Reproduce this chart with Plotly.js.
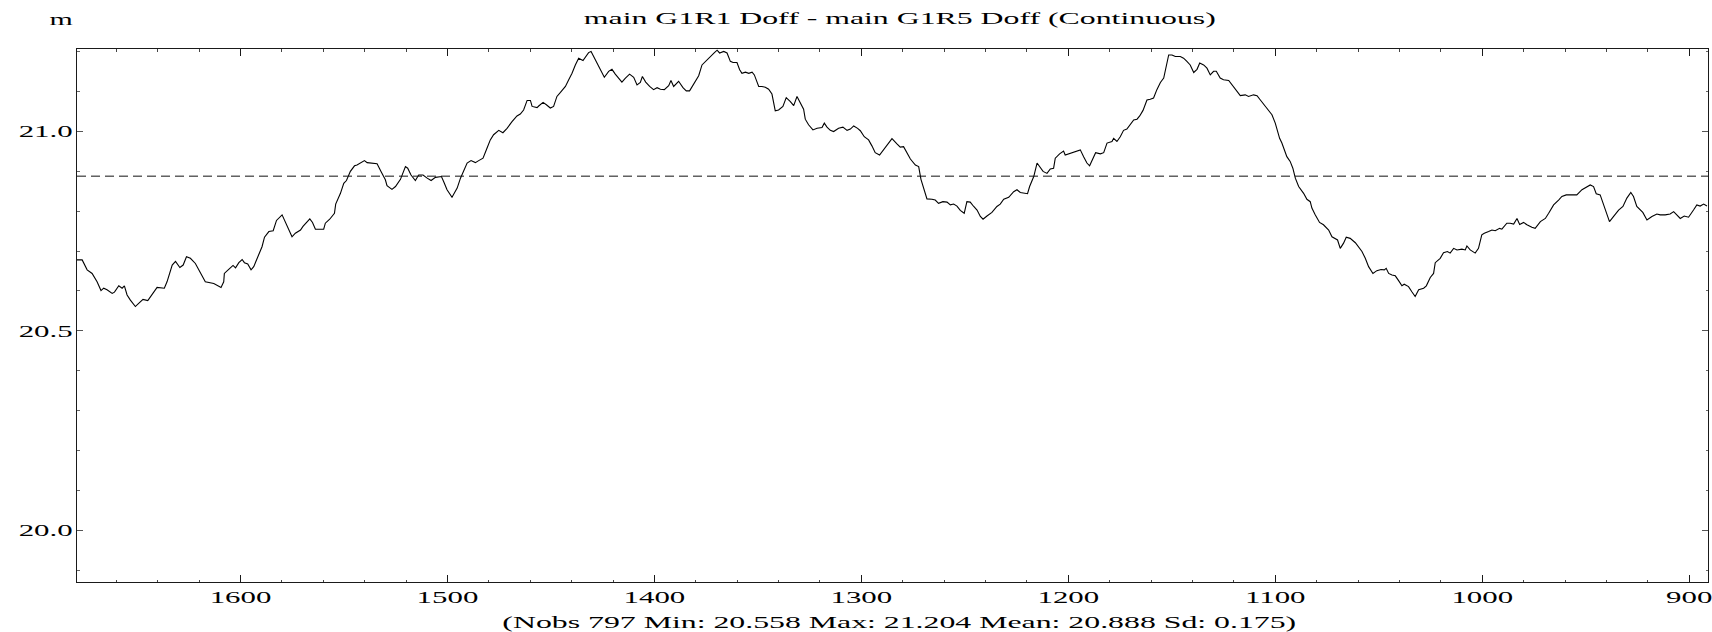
<!DOCTYPE html>
<html>
<head>
<meta charset="utf-8">
<script src="https://cdn.plot.ly/plotly-3.0.1.min.js"></script>
<style>
  html, body { margin: 0; padding: 0; background: #fff; }
  #chart { width: 1712px; height: 632px; }
</style>
</head>
<body>
<div id="chart"></div>
<script>
// ---- texts ----
const chartTitle = "main G1R1 Doff - main G1R5 Doff (Continuous)";
const unitLabel = "m";
const statsLine = "(Nobs 797 Min: 20.558 Max: 21.204 Mean: 20.888 Sd: 0.175)";
const meanValue = 20.888;

// ---- tick labels ----
const xTickVals = [1600, 1500, 1400, 1300, 1200, 1100, 1000, 900];
const xTickText = ["1600", "1500", "1400", "1300", "1200", "1100", "1000", "900"];
const yTickVals = [20.0, 20.5, 21.0];
const yTickText = ["20.0", "20.5", "21.0"];

// ---- series ----
const xVals = [
1679.0,1676.5,1674.1,1671.7,1669.3,1667.4,1666.1,1664.5,1662.0,1660.9,1658.8,1657.2,1656.1,1654.8,1653.2,1650.8,1649.2,1647.1,1644.8,1642.7,
1640.3,1636.8,1635.5,1633.0,1631.4,1629.3,1627.7,1626.1,1624.2,1621.8,1619.4,1617.0,1612.9,1611.3,1609.4,1608.1,1607.8,1605.7,1603.6,1602.4,
1600.8,1599.2,1598.1,1596.5,1594.9,1593.6,1591.7,1589.6,1588.4,1586.3,1584.2,1582.6,1579.9,1577.8,1575.1,1573.5,1571.0,1569.8,1567.8,1566.5,
1565.2,1563.8,1559.8,1559.0,1556.9,1554.6,1554.0,1551.7,1550.1,1548.8,1546.9,1544.9,1543.7,1542.0,1540.1,1538.8,1536.4,1534.0,1532.1,1530.0,
1529.2,1526.8,1525.1,1522.7,1520.3,1519.2,1517.6,1515.5,1513.9,1511.8,1509.8,1507.9,1505.8,1502.9,1501.8,1500.2,1497.8,1495.3,1493.7,1492.1,
1490.5,1488.6,1486.5,1484.9,
1482.8,1480.9,1479.3,1477.7,1475.2,1473.2,1471.2,1468.8,1466.4,1464.8,1463.2,1461.5,1459.9,1459.1,1456.7,1455.9,1453.8,1452.2,1450.3,1448.7,
1447.1,1445.4,1443.0,1441.4,1439.8,1438.2,1436.6,1434.5,1433.4,1431.8,1430.6,1429.3,1427.7,1426.1,1424.2,1422.1,1420.5,1418.9,1417.7,1415.7,
1414.0,1412.0,1410.0,1408.4,1406.8,1405.8,1404.2,1402.3,1400.4,1398.7,1397.1,1395.2,1393.1,1392.0,1390.7,1388.3,1386.2,1384.6,1383.0,1381.0,
1378.6,1377.0,1374.6,1373.3,1371.0,1369.7,1368.5,1366.5,1364.9,1363.3,1362.0,1360.1,1358.8,1357.7,1356.0,1354.4,1352.8,1351.7,1350.4,1349.6,
1348.0,1346.4,1344.8,1343.2,1341.6,1340.0,1337.9,1336.3,1334.3,1332.7,1331.1,1329.2,1327.9,1327.1,1325.5,1323.4,1321.4,1319.0,1317.9,1316.6,
1315.0,1313.4,1311.0,1308.9,1306.9,1305.3,1303.7,1301.8,1300.5,1298.6,1296.5,1294.9,1293.3,1291.2,
1289.2,1286.8,1285.2,1282.8,1281.2,1279.6,1278.0,1276.3,1273.9,1272.3,1271.2,1269.6,1268.3,1265.9,1264.3,1262.7,1260.6,1258.6,1257.0,1255.4,
1253.8,1252.2,1250.3,1249.0,1247.4,1245.7,1244.1,1242.5,1241.2,1239.3,1236.9,1234.5,1232.9,1231.2,1228.8,1226.4,1224.8,1223.2,1220.8,1219.7,
1218.7,1216.7,1215.1,1213.5,1212.2,1210.3,1208.7,1207.1,1206.3,1204.2,1202.3,1201.5,1199.0,1196.6,1194.2,1192.6,1191.0,1189.7,1188.1,1186.8,
1184.5,1182.9,1181.3,1178.9,1178.1,1176.5,1174.9,1173.3,1171.7,1170.0,1168.4,1166.8,1165.5,1163.9,1162.0,1160.4,1158.8,1157.2,1155.5,1153.9,
1152.7,1151.5,1149.9,1148.3,1145.9,1144.3,1142.7,1141.1,1139.4,1137.8,1136.5,1134.6,1133.0,1131.4,1129.8,1128.5,1126.6,1125.0,1122.5,1120.9,
1118.8,1116.9,1114.5,1112.9,1110.5,1108.8,1107.2,1104.8,1103.2,1101.6,1100.0,1097.9,
1096.8,1095.2,1094.4,1092.8,1091.5,1090.3,1088.7,1086.3,1084.7,1083.1,1082.3,1080.7,1078.6,1076.7,1074.2,1072.6,1071.0,1069.9,1068.6,1067.0,
1065.7,1063.8,1061.3,1059.7,1058.1,1056.5,1054.9,1052.8,1050.9,1048.9,1047.3,1046.4,1045.2,1043.6,1042.0,1040.4,1038.8,1037.7,1035.6,1034.0,
1032.4,1030.7,1028.3,1027.0,1025.1,1023.5,1022.7,1020.3,1018.7,1016.8,1015.5,1013.8,1012.2,1009.8,1008.2,1007.4,1005.8,1003.4,1001.8,1000.2,
999.0,996.9,995.3,993.7,991.6,990.5,988.1,986.5,984.8,983.2,981.9,980.0,978.4,976.0,974.4,971.9,969.5,967.9,965.5,963.1,
961.5,959.4,956.7,954.3,951.8,949.4,947.8,946.2,944.9,943.0,940.6,938.5,936.5,934.1,932.0,930.1,928.2,926.9,925.3,924.5,
922.4,920.4,918.0,915.6,914.0,911.6,909.2,907.5,905.9,904.3,902.4,900.3,897.9,896.3,894.7,893.0,891.4
];
const yVals = [
20.678,20.678,20.653,20.644,20.623,20.601,20.607,20.603,20.594,20.597,20.613,20.607,20.613,20.590,20.577,20.561,20.569,20.579,20.576,20.590,
20.609,20.607,20.623,20.665,20.674,20.659,20.665,20.686,20.682,20.669,20.644,20.623,20.619,20.615,20.609,20.623,20.644,20.654,20.664,20.658,
20.671,20.679,20.671,20.668,20.653,20.661,20.686,20.711,20.735,20.749,20.751,20.777,20.791,20.766,20.736,20.745,20.753,20.762,20.772,20.781,
20.772,20.755,20.755,20.770,20.780,20.795,20.818,20.845,20.870,20.877,20.900,20.914,20.916,20.921,20.927,20.922,20.921,20.919,20.900,20.879,
20.864,20.855,20.862,20.880,20.912,20.908,20.891,20.877,20.891,20.891,20.883,20.877,20.885,20.887,20.874,20.854,20.835,20.858,20.883,20.900,
20.921,20.927,20.922,20.927,
20.933,20.958,20.979,20.992,21.003,20.997,21.008,21.025,21.039,21.044,21.054,21.078,21.078,21.063,21.060,21.064,21.073,21.067,21.059,21.063,
21.088,21.098,21.113,21.130,21.146,21.167,21.184,21.178,21.187,21.198,21.201,21.188,21.172,21.153,21.136,21.151,21.156,21.144,21.136,21.124,
21.134,21.144,21.136,21.117,21.123,21.138,21.124,21.113,21.105,21.110,21.106,21.105,21.115,21.128,21.113,21.126,21.110,21.102,21.102,21.121,
21.140,21.167,21.180,21.188,21.198,21.204,21.197,21.201,21.197,21.176,21.173,21.173,21.155,21.146,21.149,21.146,21.149,21.142,21.123,21.113,
21.113,21.111,21.106,21.094,21.052,21.054,21.063,21.085,21.075,21.065,21.088,21.071,21.056,21.031,21.017,21.004,21.008,21.010,21.021,21.011,
21.003,21.000,21.008,21.011,21.003,21.006,21.014,21.008,21.002,20.987,20.979,20.964,20.947,20.941,
20.954,20.969,20.982,20.969,20.961,20.962,20.947,20.931,20.916,20.912,20.880,20.849,20.831,20.830,20.828,20.820,20.824,20.823,20.816,20.818,
20.813,20.802,20.795,20.824,20.823,20.812,20.803,20.787,20.780,20.788,20.797,20.812,20.818,20.830,20.835,20.849,20.854,20.847,20.844,20.844,
20.862,20.887,20.921,20.908,20.900,20.895,20.906,20.908,20.933,20.944,20.951,20.941,20.946,20.950,20.954,20.937,20.921,20.914,20.933,20.947,
20.944,20.947,20.971,20.975,20.983,20.975,20.987,21.003,21.006,21.017,21.029,21.031,21.039,21.053,21.079,21.081,21.084,21.105,21.123,21.134,
21.163,21.192,21.192,21.188,21.188,21.184,21.176,21.167,21.148,21.156,21.172,21.167,21.159,21.142,21.151,21.151,21.134,21.130,21.128,21.117,
21.103,21.090,21.092,21.088,21.092,21.090,21.079,21.063,21.054,21.042,21.021,20.983,
20.971,20.950,20.937,20.925,20.908,20.883,20.862,20.845,20.830,20.824,20.808,20.791,20.772,20.766,20.753,20.736,20.730,20.728,20.707,20.720,
20.735,20.732,20.721,20.711,20.699,20.682,20.661,20.644,20.651,20.654,20.653,20.657,20.644,20.640,20.638,20.626,20.613,20.617,20.611,20.598,
20.586,20.603,20.607,20.613,20.634,20.644,20.671,20.682,20.696,20.699,20.695,20.707,20.703,20.705,20.703,20.713,20.703,20.695,20.707,20.741,
20.745,20.749,20.753,20.751,20.757,20.755,20.770,20.770,20.768,20.782,20.767,20.772,20.766,20.760,20.757,20.774,20.782,20.795,20.816,20.828,
20.837,20.841,20.841,20.841,20.854,20.862,20.866,20.862,20.844,20.841,20.808,20.774,20.787,20.803,20.812,20.833,20.847,20.837,20.812,20.808,
20.797,20.778,20.787,20.793,20.791,20.791,20.793,20.799,20.791,20.782,20.788,20.785,20.803,20.816,20.813,20.818,20.813
];

const FONT = "'Liberation Serif', 'Times New Roman', serif";
const AXIS_COLOR = "#1a1a1a";

const trace = {
  type: "scatter",
  mode: "lines",
  x: xVals,
  y: yVals,
  line: { color: "#000", width: 1.1 },
  hoverinfo: "skip"
};

const layout = {
  width: 1712,
  height: 632,
  margin: { l: 76.5, r: 4.3, t: 49.3, b: 50.3, pad: 0 },
  paper_bgcolor: "#fff",
  plot_bgcolor: "#fff",
  showlegend: false,
  font: { family: FONT, color: "#000", size: 16.5 },
  title: {
    text: chartTitle,
    font: { family: FONT, size: 17, color: "#000" },
    xref: "paper", x: 0.5045, xanchor: "center",
    yref: "container", y: 1 - 18.5 / 632, yanchor: "middle"
  },
  xaxis: {
    range: [1679.0, 890.9],
    showgrid: false, zeroline: false,
    showline: true, linecolor: AXIS_COLOR, linewidth: 1, mirror: "allticks",
    ticks: "inside", ticklen: 7, tickwidth: 1, tickcolor: AXIS_COLOR,
    tickmode: "array", tickvals: xTickVals, ticktext: xTickText,
    tickfont: { family: FONT, size: 16.5, color: "#000" },
    minor: { dtick: 20, tick0: 0, ticks: "inside", ticklen: 2.5, tickwidth: 1, tickcolor: "#444", showgrid: false }
  },
  yaxis: {
    range: [19.87, 21.207],
    showgrid: false, zeroline: false,
    showline: true, linecolor: AXIS_COLOR, linewidth: 1, mirror: "allticks",
    ticks: "inside", ticklen: 6, tickwidth: 1, tickcolor: "#555",
    tickmode: "array", tickvals: yTickVals, ticktext: yTickText,
    tickfont: { family: FONT, size: 16.5, color: "#000" },
    minor: { dtick: 0.1, tick0: 20, ticks: "inside", ticklen: 2.5, tickwidth: 1, tickcolor: "#666", showgrid: false }
  },
  shapes: [{
    type: "line", xref: "paper", x0: 0, x1: 1, yref: "y", y0: meanValue, y1: meanValue,
    line: { color: "#111", width: 1, dash: "9px,5px" }, layer: "above"
  }],
  annotations: [
    { text: unitLabel, xref: "paper", yref: "paper", x: -0.0145, y: 1.0555, xanchor: "left", yanchor: "middle",
      showarrow: false, font: { family: FONT, size: 16, color: "#000" } },
    { text: statsLine, xref: "paper", yref: "paper", x: 0.5045, y: -0.0765, xanchor: "center", yanchor: "middle",
      showarrow: false, font: { family: FONT, size: 17, color: "#000" } }
  ]
};

const STRETCH = 1.87;
function stretchTexts(gd) {
  gd.querySelectorAll(".main-svg text").forEach(function (t) {
    const len = t.getComputedTextLength();
    if (len > 0) {
      t.setAttribute("textLength", (len * STRETCH).toFixed(2));
      t.setAttribute("lengthAdjust", "spacingAndGlyphs");
    }
  });
}

Plotly.newPlot("chart", [trace], layout, { staticPlot: true, displayModeBar: false })
  .then(stretchTexts);
</script>
</body>
</html>
